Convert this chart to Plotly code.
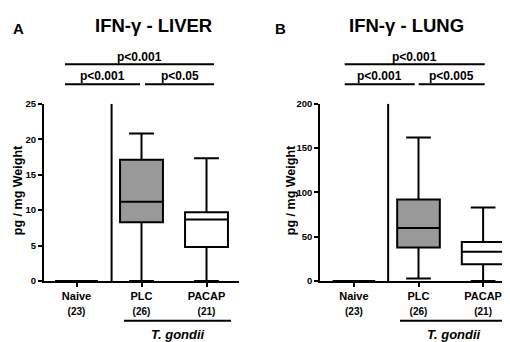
import plotly.graph_objects as go

W, H = 510, 342

groups = ["Naive", "PLC", "PACAP"]
group_n = ["(23)", "(26)", "(21)"]
fills = ["#ffffff", "#999999", "#ffffff"]

# Liver (panel A)
liver_low = [0, 0, 0]
liver_q1 = [0, 8.3, 4.8]
liver_med = [0, 11.2, 8.7]
liver_q3 = [0, 17.1, 9.7]
liver_high = [0, 20.8, 17.3]
liver_ticks = [0, 5, 10, 15, 20, 25]

# Lung (panel B)
lung_low = [0, 3, 0]
lung_q1 = [0, 38, 19]
lung_med = [0, 60, 33]
lung_q3 = [0, 92, 44]
lung_high = [0, 162, 83]
lung_ticks = [0, 50, 100, 150, 200]

titles = ["IFN-γ - LIVER", "IFN-γ - LUNG"]
panel_letters = ["A", "B"]
p_top = ["p<0.001", "p<0.001"]
p_left = ["p<0.001", "p<0.001"]
p_right = ["p<0.05", "p<0.005"]

FONT = "Liberation Sans, Arial, sans-serif"

def px(x):
    return x / W

def py(y):
    return 1 - y / H

fig = go.Figure()

panels = [
    dict(low=liver_low, q1=liver_q1, med=liver_med, q3=liver_q3, high=liver_high,
         ticks=liver_ticks, ymax=25, xa="x", ya="y"),
    dict(low=lung_low, q1=lung_q1, med=lung_med, q3=lung_q3, high=lung_high,
         ticks=lung_ticks, ymax=200, xa="x2", ya="y2"),
]

for p in panels:
    for i, g in enumerate(groups):
        fig.add_trace(go.Box(
            x=[i], q1=[p["q1"][i]], median=[p["med"][i]], q3=[p["q3"][i]],
            lowerfence=[p["low"][i]], upperfence=[p["high"][i]],
            width=0.66, whiskerwidth=0.58,
            fillcolor=fills[i], line=dict(color="black", width=2),
            boxpoints=False, showlegend=False, hoverinfo="skip",
            xaxis=p["xa"], yaxis=p["ya"],
        ))

ydom = [py(276), py(92.7)]
axis_common = dict(showgrid=False, zeroline=False, showline=True, linecolor="black",
                   linewidth=2, ticks="outside", tickwidth=2, tickcolor="black",
                   ticklen=4, fixedrange=True)

xticks = [0, 1, 2]
xtext = [f"{g}<br><span style='font-size:10px'>{n}</span>" for g, n in zip(groups, group_n)]
xfont = dict(size=11, family=FONT, weight="bold", color="black")
yfont = dict(size=9.5, family=FONT, weight="bold", color="black")

fig.update_layout(
    width=W, height=H, margin=dict(l=0, r=0, t=0, b=0),
    plot_bgcolor="white", paper_bgcolor="white",
    font=dict(family=FONT, color="black"),
    xaxis=dict(domain=[px(36), px(231)], range=[-0.5, 2.5], tickvals=xticks, ticktext=xtext,
               tickfont=xfont, anchor="y", **axis_common),
    yaxis=dict(domain=ydom, range=[0, 25], tickvals=liver_ticks,
               tickfont=yfont, anchor="x", **axis_common),
    xaxis2=dict(domain=[px(312.3), 1.0], range=[-0.52, 2.54], tickvals=xticks, ticktext=xtext,
                tickfont=xfont, anchor="y2", **axis_common),
    yaxis2=dict(domain=ydom, range=[0, 200], tickvals=lung_ticks,
                tickfont=yfont, anchor="x2", **axis_common),
)

# separators between naive and infected groups
fig.add_shape(type="line", xref="x", yref="y", x0=0.54, x1=0.54, y0=0, y1=25,
              line=dict(color="black", width=2))
fig.add_shape(type="line", xref="x2", yref="y2", x0=0.53, x1=0.53, y0=0, y1=200,
              line=dict(color="black", width=2))

def hline(x0, x1, y, w=2):
    fig.add_shape(type="line", xref="paper", yref="paper", x0=px(x0), x1=px(x1),
                  y0=py(y), y1=py(y), line=dict(color="black", width=w))

def text(x, y, s, size, italic=False, angle=0):
    fig.add_annotation(x=px(x), y=py(y), xref="paper", yref="paper", text=s,
                       showarrow=False, textangle=angle,
                       font=dict(size=size, family=FONT, color="black", weight="bold",
                                 style="italic" if italic else "normal"),
                       xanchor="center", yanchor="middle")

layout_pos = [
    dict(title_x=145, letter_x=10, top=(57, 206), l=(57, 132), r=(137, 206),
         tgl=(116, 223), ylab_x=10),
    dict(title_x=398, letter_x=272.5, top=(336.7, 476.7), l=(336.7, 406.7), r=(410.7, 476.7),
         tgl=(392, 500), ylab_x=283),
]

for k, L in enumerate(layout_pos):
    text(L["title_x"], 12, titles[k], 18.5)
    text(L["letter_x"], 15, panel_letters[k], 15)
    hline(*L["top"], 52)
    hline(*L["l"], 72.7)
    hline(*L["r"], 72.7)
    text((L["top"][0] + L["top"][1]) / 2, 44, p_top[k], 12)
    text((L["l"][0] + L["l"][1]) / 2, 64.5, p_left[k], 12)
    text((L["r"][0] + L["r"][1]) / 2, 64.5, p_right[k], 12)
    hline(*L["tgl"], 317)
    text((L["tgl"][0] + L["tgl"][1]) / 2, 331, "T. gondii", 13, italic=True)
    text(L["ylab_x"], 182, "pg / mg Weight", 12.5, angle=-90)

fig.write_html("out.html")
